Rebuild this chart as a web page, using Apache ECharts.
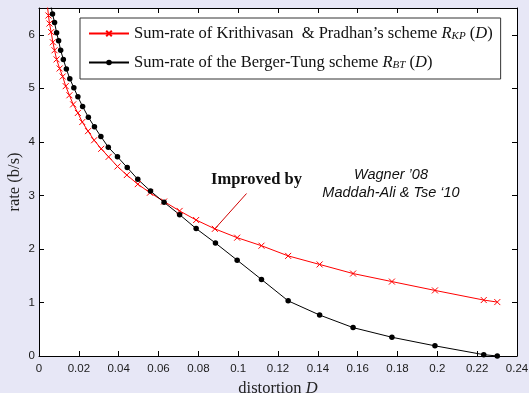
<!DOCTYPE html>
<html>
<head>
<meta charset="utf-8">
<script src="https://cdn.jsdelivr.net/npm/echarts@6/dist/echarts.min.js"></script>
<style>
html,body{margin:0;padding:0;background:#e7e7f6;}
#c{width:529px;height:393px;}
</style>
</head>
<body>
<div id="c"></div>
<script>
// Sum-rate of Krithivasan & Pradhan's scheme
const D_KP = [0.0042, 0.00475, 0.00526, 0.00611, 0.00696, 0.00781, 0.00883, 0.01036, 0.01188, 0.01341, 0.01528, 0.01715, 0.01952, 0.02173, 0.02462, 0.02767, 0.03124, 0.03497, 0.0394, 0.0441, 0.0496, 0.0557, 0.0628, 0.0706, 0.0789, 0.0883, 0.0995, 0.1117, 0.1251, 0.1409, 0.1577, 0.1772, 0.1988, 0.2233, 0.2301];
const R_KP = [6.55, 6.36, 6.21, 6.05, 5.86, 5.71, 5.54, 5.37, 5.22, 5.04, 4.87, 4.70, 4.54, 4.37, 4.20, 4.03, 3.87, 3.72, 3.54, 3.38, 3.21, 3.05, 2.885, 2.71, 2.54, 2.375, 2.21, 2.06, 1.87, 1.71, 1.54, 1.39, 1.225, 1.045, 1.007];
// Sum-rate of the Berger-Tung scheme
const D_BT = [0.00595, 0.00679, 0.00781, 0.00883, 0.00985, 0.01087, 0.01222, 0.01375, 0.01545, 0.01749, 0.01952, 0.0219, 0.02479, 0.02784, 0.03107, 0.0348, 0.0394, 0.0443, 0.0496, 0.0560, 0.0628, 0.0706, 0.0789, 0.0886, 0.0995, 0.1117, 0.1251, 0.1409, 0.1577, 0.1772, 0.1988, 0.2233, 0.2301];
const R_BT = [6.55, 6.39, 6.23, 6.04, 5.89, 5.71, 5.54, 5.36, 5.18, 5.01, 4.84, 4.66, 4.46, 4.28, 4.10, 3.90, 3.72, 3.52, 3.30, 3.08, 2.87, 2.64, 2.38, 2.11, 1.79, 1.43, 1.03, 0.765, 0.53, 0.35, 0.19, 0.025, 0.0];
// annotation arrow (data coordinates)
const ARROW_FROM = [0.0883, 2.375];
const ARROW_TO = [0.1042, 3.035];
const SERIES_NAMES = ['KP', 'BT'];

const chart = echarts.init(document.getElementById('c'), null, {renderer: 'canvas'});
const zip = (a, b) => a.map((v, i) => [v, b[i]]);
const XPATH = 'path://M0,0L10,10M10,0L0,10';

const axisCommon = {
  type: 'value',
  splitLine: {show: false},
  axisLine: {show: true, onZero: false, lineStyle: {color: '#000', width: 1}},
  axisTick: {show: true, inside: true, length: 5, lineStyle: {color: '#000'}},
};
const labelStyle = {fontFamily: 'Liberation Sans', fontSize: 11.5, color: '#1a1a1a'};

chart.setOption({
  backgroundColor: '#e7e7f6',
  animation: false,
  grid: {left: 39, right: 12, top: 8, bottom: 37, show: true, backgroundColor: '#fff', borderWidth: 0,
         containLabel: false, outerBoundsMode: 'none'},
  xAxis: [
    Object.assign({}, axisCommon, {
      position: 'bottom', min: 0, max: 0.24, interval: 0.02,
      axisLabel: Object.assign({margin: 7}, labelStyle),
      name: '{t|distortion }{i|D}', nameLocation: 'middle', nameGap: 24,
      nameTextStyle: {verticalAlign: 'top', rich: {
        t: {fontFamily: 'Liberation Serif', fontSize: 16.5, color: '#222'},
        i: {fontFamily: 'Liberation Serif', fontSize: 16.5, fontStyle: 'italic', color: '#222'}
      }}
    }),
    Object.assign({}, axisCommon, {
      position: 'top', min: 0, max: 0.24, interval: 0.02, axisLabel: {show: false}
    })
  ],
  yAxis: [
    Object.assign({}, axisCommon, {
      position: 'left', min: 0, max: 6.5, interval: 1,
      axisLabel: Object.assign({margin: 4, showMaxLabel: false}, labelStyle),
      name: 'rate (b/s)', nameLocation: 'middle', nameGap: 24, nameRotate: 90,
      nameMoveOverlap: false,
      nameTextStyle: {fontFamily: 'Liberation Serif', fontSize: 16.5, color: '#222', verticalAlign: 'middle'}
    }),
    Object.assign({}, axisCommon, {
      position: 'right', min: 0, max: 6.5, interval: 1, axisLabel: {show: false}
    })
  ],
  legend: {
    left: 80, top: 18, orient: 'vertical',
    backgroundColor: '#fff', borderColor: '#333', borderWidth: 1,
    padding: [7, 8, 8, 8], itemGap: 12, itemWidth: 40, itemHeight: 7,
    data: SERIES_NAMES,
    formatter: function (n) {
      if (n === 'KP') return 'Sum-rate of Krithivasan  & Pradhan\u2019s scheme {i|R}{s|KP} ({i|D})';
      return 'Sum-rate of the Berger-Tung scheme {i|R}{s|BT} ({i|D})';
    },
    textStyle: {
      fontFamily: 'Liberation Serif', fontSize: 16.5, color: '#111',
      rich: {
        i: {fontFamily: 'Liberation Serif', fontSize: 16.5, fontStyle: 'italic', color: '#111'},
        s: {fontFamily: 'Liberation Serif', fontSize: 11, fontStyle: 'italic', color: '#111', verticalAlign: 'bottom', padding: [6, 0, 0, 0]}
      }
    }
  },
  graphic: [
    {type: 'text', left: 211, top: 171, style: {text: 'Improved by', font: 'bold 16.5px "Liberation Serif"', fill: '#111'}},
    {type: 'text', x: 391, y: 175, style: {text: 'Wagner \u201908', font: 'italic 14.5px "Liberation Sans"', fill: '#111', align: 'center', verticalAlign: 'middle'}},
    {type: 'text', x: 391, y: 193, style: {text: 'Maddah-Ali & Tse \u201810', font: 'italic 14.5px "Liberation Sans"', fill: '#111', align: 'center', verticalAlign: 'middle'}}
  ],
  series: [
    {
      name: 'KP', type: 'line', data: zip(D_KP, R_KP), clip: true,
      symbol: XPATH, symbolSize: 6,
      lineStyle: {color: '#ff0000', width: 1},
      itemStyle: {color: '#ff0000', borderColor: '#ff0000', borderWidth: 1},
      markLine: {
        silent: true, symbol: ['none', 'arrow'], symbolSize: [0, 9],
        lineStyle: {color: '#d00000', width: 1, type: 'solid'},
        label: {show: false},
        data: [[{coord: ARROW_FROM}, {coord: ARROW_TO}]]
      }
    },
    {
      name: 'BT', type: 'line', data: zip(D_BT, R_BT), clip: true,
      symbol: 'circle', symbolSize: 5.5,
      lineStyle: {color: '#000', width: 1},
      itemStyle: {color: '#000'}
    }
  ]
});
</script>
</body>
</html>
